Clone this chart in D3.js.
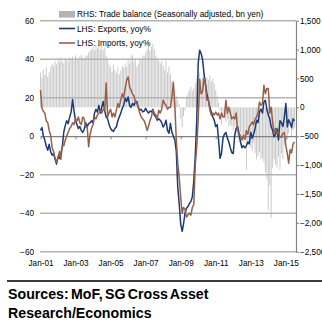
<!DOCTYPE html>
<html>
<head>
<meta charset="utf-8">
<script src="https://cdn.jsdelivr.net/npm/d3@7/dist/d3.min.js"></script>
<style>
  body { margin: 0; background: #fff; }
  text { font-family: "Liberation Sans", Arial, Helvetica, sans-serif; fill: #000; }
</style>
</head>
<body>
<svg id="chart" width="322" height="328"></svg>
<script>
// monthly series, Jan-2001 onwards
var firstMonth = new Date(2001, 0, 1);

var exportsYoY = [
  3, 4.5, 0, -2, -5.2, -7.3, -4.2, -8.1, -9.9, -9, -12, -14.5,
  -10.7, -11.6, -9, -5.5, 2.2, 5.5, 8, 6.5, 10, 12.5, 19, 13,
  8, 6, 4, 5, 3, 2, 3.5, 7, 5, 6.5, 7, 8,
  7, 12, 14, 12.5, 16, 12, 15, 18, 13, 10, 9, 6,
  4, 3, 2.5, 4, 4.8, 8, 10, 12, 14.5, 16, 19.7, 18,
  20.4, 16, 15, 17, 16, 17.8, 18, 15, 13.5, 14, 12.6, 13,
  14.5, 13, 12, 13, 12.6, 14, 11, 10, 8.3, 9, 8.3, 7,
  4.8, 6, 8.3, 3, 1.5, 6.7, 2, 0, -2, -7.8, -26.7, -35,
  -45.7, -49.4, -45.6, -40, -37.4, -36.5, -35, -34, -31.5, -23, -10, 8,
  38, 44.7, 43, 40, 32.6, 27, 22, 18.7, 15, 12.6, 10, 8.3,
  5, 6, -2, -11.5, -9, -1, 1, 2, -1, -3, -6, -8.5,
  -9, 0.5, 4, 5, 1, -3, -6, -5, -6, -5, -3, -4,
  2, -1, 1, 4, 8.3, 7, 12.6, 14, 12, 17.8, 18.7, 14,
  11, 9, 5, 3, -0.3, 1, 4, -2, 8, 7, 5, 10,
  17, 4.8, 8.5, 7, 4.5, 9, 8
];

var importsYoY = [
  24, 14.5, 13, 12, 8, 7, 3, 0.5, -6, -8, -11.5, -13.5,
  -11, -8, -12, -5, -5, -2, 0, 2, 4, 5, 7, 6,
  9, 8, 10, 7, 6, 10, 9, 4.7, 5, -5.5, 1, 4,
  6, 10, 9, 11, 12, 13.5, 12, 14, 13.5, 27.7, 10, 12.5,
  14, 10, 12, 10, 13.5, 17, 15, 19, 22, 20, 25, 29,
  30.8, 25.6, 24, 22, 21, 18, 17, 15, 12, 10, 9, 8,
  6, 3, 5, 8, 10, 13.5, 12, 11, 9, 13.5, 12, 14,
  18.7, 17, 16, 14, 15, 15, 20, 28, 16, -2, -14, -21.5,
  -31.7, -40, -37, -38, -42, -41, -40, -41, -37, -35.5, -15, -5.5,
  8.7, 29.5, 22, 23, 30, 27, 18.7, 19, 13.5, 11, 12, 11,
  12.5, 11, 12, 9, 12, 10, 10, 18.7, 12, 15, 12, 9,
  10, 9, 12, 3, 2, -0.3, -2, 0.5, -1.6, 3, 1, 5,
  6, 7.4, 6, 9, 10, 12, 17.8, 16, 17, 26.5, 22, 24.8,
  24.8, 12, 15, 7.5, 1.5, 4, 1.5, 2.2, -0.5, -0.5, 1.5, 1.9,
  -5, -9, -14, -7, -8.7, -4, -3
];

// seasonally adjusted, bn yen
var tradeBalance = [
  600, 520, 650, 560, 690, 530, 600, 700, 760, 720, 800, 740,
  820, 780, 860, 800, 760, 850, 820, 790, 860, 830, 880, 810,
  900, 850, 820, 880, 910, 860, 840, 890, 900, 950, 980, 1000,
  1050, 990, 1080, 1020, 1090, 1000, 1060, 990, 1030, 900, 850, 740,
  700, 620, 740, 650, 600, 700, 570, 640, 720, 690, 760, 700,
  820, 760, 880, 910, 800, 850, 700, 760, 860, 820, 900, 880,
  950, 1000, 1120, 980, 1050, 1100, 1000, 900, 850, 810, 760, 800,
  720, 650, 810, 600, 700, 570, 460, 350, 300, 200, 120, 50,
  -200, -340, -150, -50, 190, 250, 300, 360, 280, 330, 420, 500,
  560, 600, 480, 520, 580, 500, 520, 480, 550, 450, 500, 400,
  300, 200, 80, -60, -300, -170, -160, -250, -200, -330, -300, -330,
  -400, -330, -450, -500, -610, -430, -550, -600, -500, -1080, -610, -650,
  -700, -750, -610, -800, -900, -850, -780, -900, -880, -950, -1130, -1250,
  -1775, -1350, -1912, -1050, -900, -1000, -1050, -850, -1080, -800, -900, -650,
  -600, -560, -450, -340, -500, -400, -350
];

var leftTicks = [60, 40, 20, 0, -20, -40, -60];
var rightTicks = [1500, 1000, 500, 0, -500, -1000, -1500, -2000, -2500];
var xTickYears = [2001, 2003, 2005, 2007, 2009, 2011, 2013, 2015];
var legendLabels = [
  "RHS: Trade balance (Seasonally adjusted, bn yen)",
  "LHS: Exports, yoy%",
  "LHS: Imports, yoy%"
];
var sourceLines = ["Sources: MoF, SG Cross Asset", "Research/Economics"];

var colors = { bar: "#cacaca", exports: "#1b3a78", imports: "#976049", grid: "#b4b4b4" };

var months = exportsYoY.map(function(d, i) {
  return d3.timeMonth.offset(firstMonth, i);
});

var svg = d3.select("#chart");
var plot = { left: 40.5, right: 296, top: 20.7, bottom: 251.7 };

var x = d3.scaleTime()
  .domain([firstMonth, new Date(2015, 7, 1)])
  .range([plot.left, plot.right]);
var yL = d3.scaleLinear().domain([-60, 60]).range([plot.bottom, plot.top]);
var yR = d3.scaleLinear().domain([-2500, 1500]).range([plot.bottom, plot.top]);

// trade balance bars
svg.append("g").selectAll("rect")
  .data(tradeBalance)
  .enter().append("rect")
  .attr("x", function(d, i) { return x(months[i]) - 0.5; })
  .attr("width", 1)
  .attr("y", function(d) { return yR(Math.max(0, d)); })
  .attr("height", function(d) { return Math.abs(yR(d) - yR(0)); })
  .attr("fill", colors.bar);

// horizontal gridlines (left scale)
svg.append("g").selectAll("line")
  .data(leftTicks.filter(function(d) { return d !== 0; }))
  .enter().append("line")
  .attr("x1", plot.left - 0.5).attr("x2", plot.right)
  .attr("y1", function(d) { return yL(d); })
  .attr("y2", function(d) { return yL(d); })
  .attr("stroke", colors.grid)
  .attr("stroke-width", 1.5);

// zero line with year ticks
var xTickDates = xTickYears.map(function(y) { return new Date(y, 0, 1); });
var zeroAxis = svg.append("g")
  .attr("transform", "translate(0," + yL(0) + ")")
  .call(d3.axisBottom(x).tickValues(xTickDates).tickSize(3).tickSizeOuter(0).tickFormat(""));
zeroAxis.select(".domain").attr("stroke", "#808080").attr("stroke-width", 1.2);
zeroAxis.selectAll(".tick line").attr("stroke", "#808080");

// x labels
var xLabels = svg.append("g")
  .attr("transform", "translate(0," + (plot.bottom + 1) + ")")
  .call(d3.axisBottom(x).tickValues(xTickDates).tickSize(0).tickPadding(7)
    .tickFormat(d3.timeFormat("%b-%y")));
xLabels.select(".domain").remove();
xLabels.selectAll("text").attr("font-size", 8.2);

// left axis labels
var leftAxis = svg.append("g")
  .attr("transform", "translate(35,0)")
  .call(d3.axisLeft(yL).tickValues(leftTicks).tickSize(0).tickPadding(1));
leftAxis.select(".domain").remove();
leftAxis.selectAll("text").attr("font-size", 8.2);

// right axis
var rightAxis = svg.append("g")
  .attr("transform", "translate(" + plot.right + ",0)")
  .call(d3.axisRight(yR).tickValues(rightTicks).tickSize(3).tickSizeOuter(0).tickPadding(1)
    .tickFormat(d3.format(",")));
rightAxis.select(".domain").attr("stroke", "#808080").attr("stroke-width", 1.2);
rightAxis.selectAll(".tick line").attr("stroke", "#808080");
rightAxis.selectAll("text").attr("font-size", 8.2);

// lines
var lineL = d3.line()
  .x(function(d, i) { return x(months[i]); })
  .y(function(d) { return yL(d); });

svg.append("path").datum(exportsYoY)
  .attr("d", lineL).attr("fill", "none")
  .attr("stroke", colors.exports).attr("stroke-width", 1.5)
  .attr("stroke-linejoin", "round");

svg.append("path").datum(importsYoY)
  .attr("d", lineL).attr("fill", "none")
  .attr("stroke", colors.imports).attr("stroke-width", 1.5)
  .attr("stroke-linejoin", "round");

// legend
var legend = svg.append("g").attr("transform", "translate(59,0)");
var legendY = [14.3, 28.5, 43];
legendLabels.forEach(function(label, i) {
  var row = legend.append("g").attr("transform", "translate(0," + legendY[i] + ")");
  if (i === 0) {
    row.append("rect").attr("x", 0).attr("y", -3.3).attr("width", 16).attr("height", 6.6)
      .attr("fill", "#b3b3b3");
  } else {
    row.append("line").attr("x1", 0).attr("x2", 16).attr("y1", 0).attr("y2", 0)
      .attr("stroke", i === 1 ? colors.exports : colors.imports).attr("stroke-width", 1.6);
  }
  row.append("text").attr("x", 18).attr("y", 3).attr("font-size", 8.3).text(label);
});

// source footer
svg.append("line")
  .attr("x1", 7).attr("x2", 322).attr("y1", 281).attr("y2", 281)
  .attr("stroke", "#3c3c3c").attr("stroke-width", 2);

svg.selectAll(".source")
  .data(sourceLines)
  .enter().append("text")
  .attr("class", "source")
  .attr("x", 8)
  .attr("y", function(d, i) { return 299 + i * 18.7; })
  .attr("font-size", 14.2)
  .attr("font-weight", "bold")
  .attr("word-spacing", function(d, i) { return i === 0 ? -1.6 : 0; })
  .text(function(d) { return d; });
</script>
</body>
</html>
